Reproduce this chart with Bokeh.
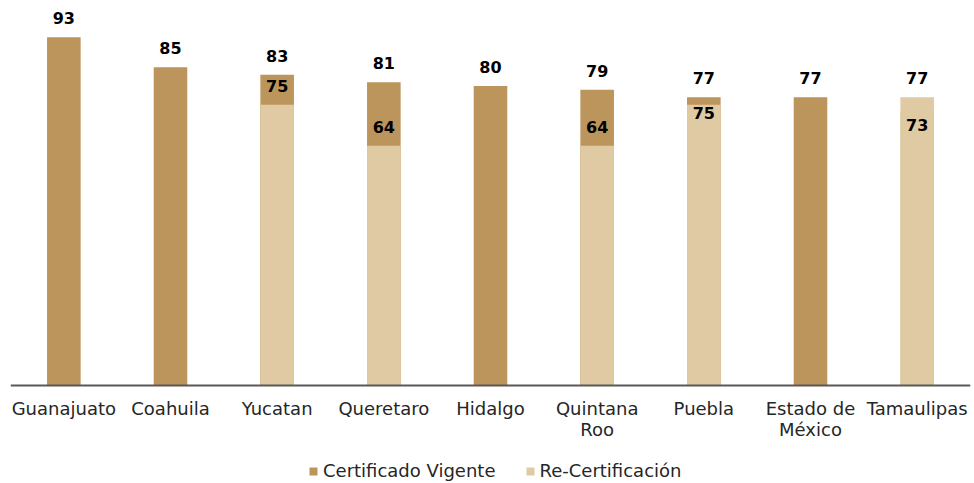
from bokeh.plotting import figure
from bokeh.models import ColumnDataSource, FactorRange, Range1d, Legend, LegendItem, Span
from bokeh.core.properties import value
from bokeh.embed import file_html
from bokeh.resources import INLINE

# ---- data ----
states = ["Guanajuato", "Coahuila", "Yucatan", "Queretaro", "Hidalgo",
          "Quintana\nRoo", "Puebla", "Estado de\nMéxico", "Tamaulipas"]
certificado_vigente = [93, 85, 83, 81, 80, 79, 77, 77, 77]
re_certificacion = [None, None, 75, 64, None, 64, 75, None, 73]

# ---- style ----
DARK = "#BC955C"
LIGHT = "#DFCAA3"
FONT = "DejaVu Sans"
TXT = "#262626"
light_fill_states = {"Tamaulipas"}          # bar drawn in the light tone
recert_label_dy = {"Puebla": 8, "Tamaulipas": 13}   # px, default -19

vig_colors = [LIGHT if s in light_fill_states else DARK for s in states]
vig_src = ColumnDataSource(dict(x=states, top=certificado_vigente, color=vig_colors,
                                label=[str(v) for v in certificado_vigente],
                                base=[0] * len(states)))

rx, rtop, rlab, rdy = [], [], [], []
for s, v in zip(states, re_certificacion):
    if v is not None:
        rx.append(s)
        rtop.append(v)
        rlab.append(str(v))
        rdy.append(recert_label_dy.get(s, -19))
rec_src = ColumnDataSource(dict(x=rx, top=rtop, label=rlab, dy=rdy))

# plot area: baseline at 385px, 3.745 px per unit
p = figure(x_range=FactorRange(*states, range_padding=0), y_range=Range1d(-26.17, 100.67),
           width=974, height=483, output_backend="svg", toolbar_location=None,
           min_border_left=10, min_border_right=4, min_border_top=8, min_border_bottom=0)

r1 = p.vbar(x="x", top="top", width=0.315, source=vig_src, fill_color="color", line_color=None)
r2 = p.vbar(x="x", top="top", width=0.315, source=rec_src, fill_color=LIGHT, line_color=None)

# category axis line and labels
p.add_layout(Span(location=0, dimension="width", line_color="#595959", line_width=2))
p.text(x="x", y="base", text="x", source=vig_src, text_align="center",
       text_baseline="top", y_offset=13, text_font=value(FONT), text_font_size="18px",
       text_color=TXT, text_line_height=0.97)

p.text(x="x", y="top", text="label", source=vig_src, text_align="center",
       text_baseline="middle", y_offset=-19, text_font=value(FONT), text_font_style="bold",
       text_font_size="16px", text_color="black")
p.text(x="x", y="top", text="label", source=rec_src, text_align="center",
       text_baseline="middle", y_offset="dy", text_font=value(FONT), text_font_style="bold",
       text_font_size="16px", text_color="black")

p.axis.visible = False
p.xgrid.grid_line_color = None
p.ygrid.grid_line_color = None
p.outline_line_color = None

legend = Legend(items=[LegendItem(label="Certificado Vigente", renderers=[r1], index=0),
                       LegendItem(label="Re-Certificación", renderers=[r2])],
                orientation="horizontal", location=(298, 2),
                label_text_font=FONT, label_text_font_size="18px", label_text_color=TXT,
                glyph_width=10, glyph_height=10, label_standoff=5, spacing=29,
                border_line_color=None, background_fill_alpha=0, margin=0, padding=0)
p.add_layout(legend, "center")

open("out.html", "w").write(file_html(p, INLINE))
